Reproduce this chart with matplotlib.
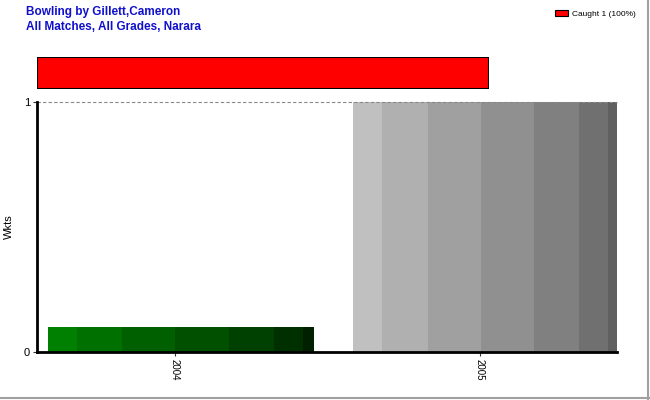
import matplotlib
matplotlib.use('Agg')
import matplotlib.pyplot as plt
from matplotlib.lines import Line2D

plt.rcParams['font.family'] = ['Liberation Sans', 'DejaVu Sans']

# Data
years = ['2004', '2005']
wickets = [0.1, 1]
bar_shades = [
    ['#008000', '#007000', '#006000', '#005000', '#004000', '#003000', '#002000'],
    ['#c0c0c0', '#b0b0b0', '#a0a0a0', '#909090', '#808080', '#707070', '#606060'],
]
# relative widths of the shading strips in each bar
strip_widths = [29, 45, 53, 53, 45, 29, 11]
dismissals = ['Caught']
dismissal_counts = [1]
dismissal_pct = [100]

W, H = 650, 400
fig = plt.figure(figsize=(6.5, 4.0), dpi=100)

# Main axes
ax = fig.add_axes([37 / W, 1 - 352 / H, 580 / W, 250 / H])
bar_w = 0.87
total = sum(strip_widths)
for i, (yr, val) in enumerate(zip(years, wickets)):
    left = i - 0.415
    for w, c in zip(strip_widths, bar_shades[i]):
        ww = bar_w * w / total
        ax.bar(left, val, width=ww, align='edge', color=c, linewidth=0, zorder=2)
        left += ww

ax.set_xlim(-0.452, 1.449)
ax.set_ylim(0, 1)
ax.set_xticks(range(len(years)))
ax.set_xticklabels(years, rotation=270, fontsize=7)
ax.set_yticks([0, 1])
ax.set_yticklabels(['0', '1'], fontsize=8)
ax.tick_params(axis='both', length=3, width=0.8, pad=2, colors='#333333', labelcolor='black')
ax.set_ylabel('Wkts', fontsize=8)
ax.yaxis.set_label_coords(-0.04, 0.5)
for y in [0, 1]:
    ax.axhline(y, color='#888888', linestyle='--', linewidth=0.8, dashes=(3, 2), zorder=3,
               clip_on=False)
ax.spines['top'].set_visible(False)
ax.spines['right'].set_visible(False)
ax.spines['left'].set_linewidth(2)
ax.spines['bottom'].set_linewidth(2)
ax.spines['left'].set_zorder(5)
ax.spines['bottom'].set_zorder(5)

# Top dismissal bar
ax2 = fig.add_axes([37 / W, 1 - 89 / H, 452 / W, 32 / H])
ax2.barh([0], [sum(dismissal_counts)], height=1, color='red', edgecolor='black', linewidth=1.5)
ax2.set_xlim(0, sum(dismissal_counts))
ax2.set_ylim(-0.5, 0.5)
ax2.axis('off')

# Legend
handles = [plt.Rectangle((0, 0), 1, 1, facecolor='red', edgecolor='black', linewidth=0.8)]
labels = ['%s %d (%d%%)' % (d, c, p) for d, c, p in zip(dismissals, dismissal_counts, dismissal_pct)]
fig.legend(handles, labels, loc='upper right', bbox_to_anchor=(643 / W, 1 - 2 / H), frameon=False,
           fontsize=6, handlelength=1.6, handleheight=0.8, handletextpad=0.4)

# Title
fig.text(26 / W, 1 - 12 / H, 'Bowling by Gillett,Cameron', color='#1010cc', fontsize=8.5,
         fontweight='bold', va='center')
fig.text(26 / W, 1 - 27 / H, 'All Matches, All Grades, Narara', color='#1010cc', fontsize=8.5,
         fontweight='bold', va='center')

# Frame edges on right and bottom
fig.add_artist(Line2D([648 / W, 648 / W], [0, 1], color='#a0a0a0', linewidth=1.5))
fig.add_artist(Line2D([0, 1], [2 / H, 2 / H], color='#a0a0a0', linewidth=1.5))

fig.savefig('out.png', dpi=100)
